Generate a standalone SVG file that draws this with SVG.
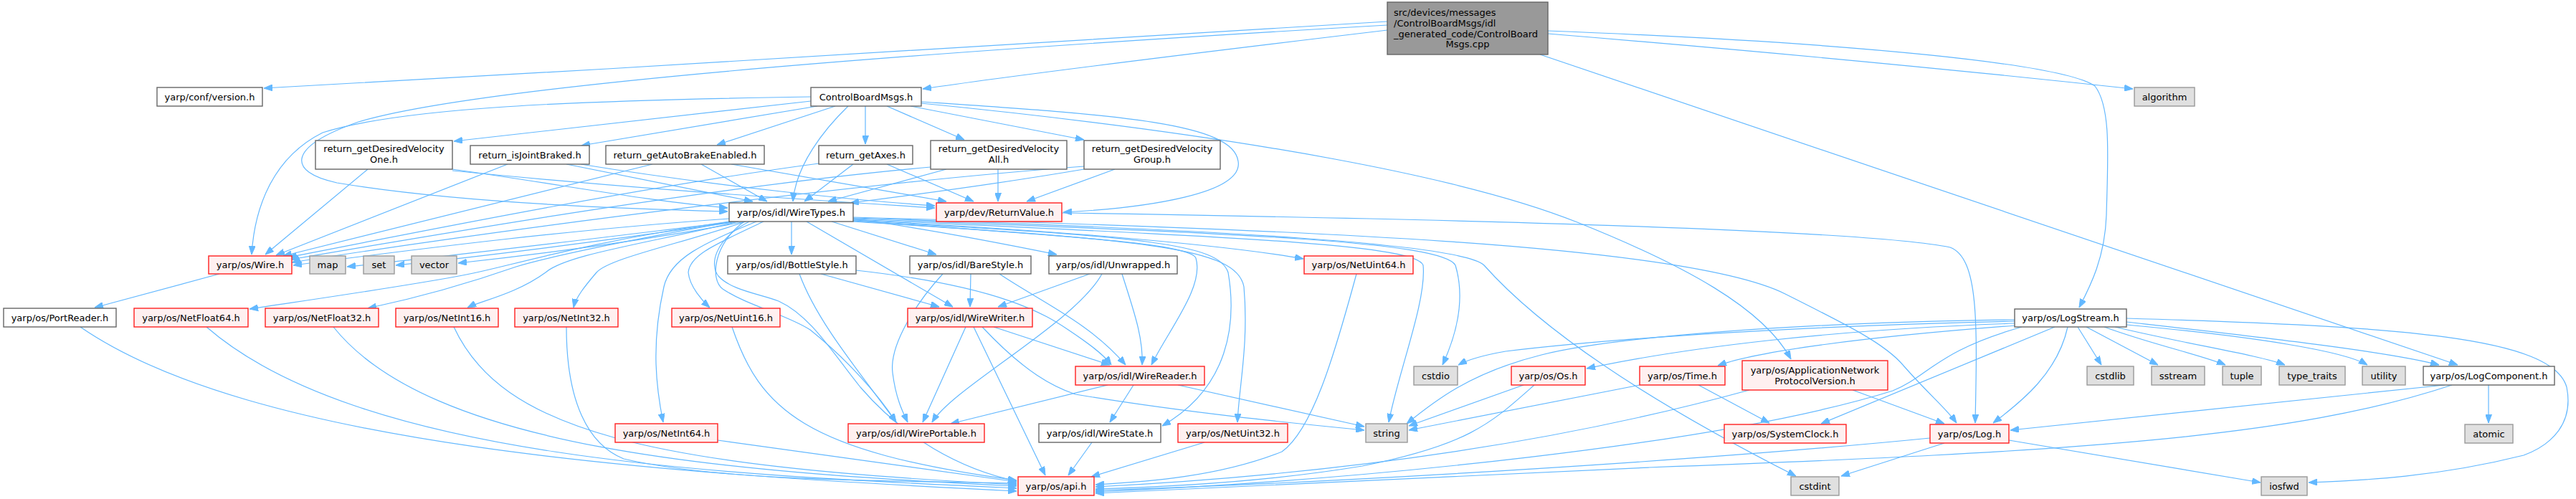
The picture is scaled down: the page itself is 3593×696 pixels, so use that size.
<svg xmlns="http://www.w3.org/2000/svg" width="3593" height="696" viewBox="0 0 3593 696">
<style>
.b{fill:#ffffff;stroke:#666666;stroke-width:1.4}
.r{fill:#fff0f0;stroke:#ff2020;stroke-width:1.4}
.g{fill:#e0e0e0;stroke:#999999;stroke-width:1.4}
.k{fill:#999999;stroke:#666666;stroke-width:1.4}
text{font-family:"DejaVu Sans","Liberation Sans",sans-serif;font-size:13px;fill:#000000;text-anchor:middle}
text.l{text-anchor:start}
#edges path{fill:none;stroke:#63b8ff;stroke-width:1.2;marker-end:url(#a)}
</style>
<defs>
<marker id="a" markerUnits="userSpaceOnUse" markerWidth="12" markerHeight="9" refX="12" refY="4.5" orient="auto">
<path d="M0,0 L12,4.5 L0,9 z" fill="#63b8ff" stroke="#63b8ff" stroke-width="1"/>
</marker>
</defs>
<rect width="3593" height="696" fill="#ffffff"/>
<g id="edges">
<path d="M1935,30 C1500,55 900,95 368,123"/>
<path d="M1935,35 C1500,60 700,110 500,170 C400,205 400,240 470,255 C650,285 900,292 1015,295"/>
<path d="M1935,42 C1700,70 1450,100 1287,124"/>
<path d="M2159,47 C2500,75 2800,105 2975,124"/>
<path d="M2159,43 C2600,60 2880,90 2922,120 C2945,150 2940,220 2938,300 C2936,360 2915,400 2900,429"/>
<path d="M2148,76 L3428,509"/>
<path d="M1131,135 C800,140 560,150 450,185 C380,220 355,290 351,355"/>
<path d="M1131,141 L633,197"/>
<path d="M1140,148 L811,203"/>
<path d="M1165,148 L1000,202"/>
<path d="M1207,148 L1207,201"/>
<path d="M1183,148 C1150,180 1110,230 1106,281"/>
<path d="M1237,148 L1345,195"/>
<path d="M1270,148 L1512,195"/>
<path d="M1285,142 C1550,160 1720,170 1727,225 C1735,270 1600,290 1483,296"/>
<path d="M1285,144 C1750,190 2050,250 2200,310 C2350,370 2460,430 2498,501"/>
<path d="M513,236 L370,355"/>
<path d="M631,236 C800,260 900,280 1015,290"/>
<path d="M631,238 C900,265 1150,280 1304,290"/>
<path d="M708,229 L385,356"/>
<path d="M790,229 L1050,281"/>
<path d="M810,229 C1000,260 1200,280 1304,287"/>
<path d="M910,229 L395,357"/>
<path d="M978,229 L1070,281"/>
<path d="M1020,229 L1320,281"/>
<path d="M1142,228 C900,260 600,320 402,359"/>
<path d="M1190,229 L1122,281"/>
<path d="M1237,229 L1358,281"/>
<path d="M1298,233 C1000,260 650,320 405,362"/>
<path d="M1320,236 L1155,281"/>
<path d="M1392,236 L1392,281"/>
<path d="M1512,232 C1200,255 700,320 407,366"/>
<path d="M1512,236 C1400,255 1250,275 1186,283"/>
<path d="M1555,236 L1432,281"/>
<path d="M1017,305 C800,320 600,345 409,370"/>
<path d="M1025,309 C850,330 650,355 484,372"/>
<path d="M1030,309 C850,335 700,355 552,370"/>
<path d="M1040,309 C900,335 750,355 639,367"/>
<path d="M1104,309 L1104,355"/>
<path d="M1160,309 L1306,355"/>
<path d="M1190,305 C1300,320 1400,340 1474,355"/>
<path d="M1125,309 L1329,428"/>
<path d="M1190,307 C1450,320 1700,340 1818,361"/>
<path d="M1190,308 C1500,330 1660,340 1668,360 C1680,400 1630,460 1606,509"/>
<path d="M1038,309 C995,340 990,390 1008,403 C1040,425 1100,440 1130,460 C1180,500 1225,550 1250,589"/>
<path d="M1045,309 C995,335 990,370 1002,385 C1020,405 1060,410 1086,420 C1130,440 1160,490 1200,540 C1260,610 1340,655 1418,671"/>
<path d="M1190,308 C1600,330 1700,340 1713,380 C1725,450 1715,540 1621,594"/>
<path d="M1190,309 C1600,335 1725,345 1735,400 C1742,480 1728,540 1726,589"/>
<path d="M1190,306 C1700,330 1975,340 1985,370 C1990,420 1950,520 1937,589"/>
<path d="M1190,305 C1700,325 2010,335 2030,370 C2045,420 2030,470 2012,509"/>
<path d="M1190,304 C1700,320 2040,340 2070,370 C2150,460 2300,560 2505,664"/>
<path d="M1190,303 C1800,320 2350,340 2490,410 C2580,455 2630,480 2655,510 C2690,550 2715,570 2729,590"/>
<path d="M1017,309 C800,340 700,375 640,385 C560,400 420,420 348,431"/>
<path d="M1022,309 C850,340 760,360 720,372 C640,400 560,420 513,430"/>
<path d="M1030,309 C900,340 790,355 761,380 C720,410 670,420 652,429"/>
<path d="M1040,309 C950,340 850,360 832,380 C815,400 803,415 800,429"/>
<path d="M1055,309 C980,340 935,360 926,400 C908,480 915,540 925,589"/>
<path d="M1065,309 C1000,340 962,355 960,380 C962,400 980,420 990,429"/>
<path d="M306,382 L132,429"/>
<path d="M1145,382 L1310,428"/>
<path d="M1194,377 C1400,400 1460,440 1490,460 C1520,480 1540,495 1550,509"/>
<path d="M1115,382 C1140,450 1200,520 1250,589"/>
<path d="M1354,382 L1353,428"/>
<path d="M1394,382 C1450,420 1520,450 1570,509"/>
<path d="M1315,382 C1280,420 1240,480 1245,520 C1250,560 1262,580 1266,589"/>
<path d="M1520,382 L1392,428"/>
<path d="M1565,382 C1580,430 1595,470 1593,509"/>
<path d="M1537,382 C1500,450 1330,540 1300,589"/>
<path d="M1386,456 L1548,509"/>
<path d="M1347,456 L1287,589"/>
<path d="M1358,456 L1458,663"/>
<path d="M1370,456 C1430,520 1470,540 1500,550 C1650,575 1800,590 1903,600"/>
<path d="M1545,537 L1326,591"/>
<path d="M1581,537 L1548,589"/>
<path d="M1643,537 L1903,595"/>
<path d="M1523,617 L1490,663"/>
<path d="M1680,617 L1522,665"/>
<path d="M1892,382 C1860,500 1830,600 1788,630 C1700,665 1600,672 1528,676"/>
<path d="M112,456 C350,620 900,660 1418,685"/>
<path d="M288,456 C500,640 1000,662 1418,681"/>
<path d="M465,456 C600,625 1000,658 1418,678"/>
<path d="M633,456 C700,600 900,650 1418,676"/>
<path d="M790,456 C790,560 820,620 870,640 C1000,670 1200,670 1418,674"/>
<path d="M1001,614 L1418,672"/>
<path d="M1021,456 C1060,570 1120,630 1418,670"/>
<path d="M1481,297 C2000,305 2600,320 2720,345 C2760,360 2758,450 2755,590"/>
<path d="M2810,446 C2500,450 2250,470 2150,495 C2050,520 2000,560 1962,591"/>
<path d="M2810,448 C2500,455 2250,472 2100,490 C2060,497 2045,503 2034,509"/>
<path d="M2810,451 C2550,460 2350,485 2213,514"/>
<path d="M2812,454 C2600,470 2450,490 2396,510"/>
<path d="M2820,456 C2700,490 2690,525 2640,545 C2400,620 1900,670 1528,686"/>
<path d="M2866,456 L2540,591"/>
<path d="M2884,456 C2870,520 2820,560 2780,590"/>
<path d="M2898,456 L2931,509"/>
<path d="M2910,456 L3010,509"/>
<path d="M2935,456 C3000,480 3070,495 3104,509"/>
<path d="M2950,456 C3050,480 3150,495 3187,509"/>
<path d="M2966,453 C3150,470 3270,490 3302,509"/>
<path d="M2966,449 C3150,470 3330,490 3402,509"/>
<path d="M2966,444 C3350,455 3560,470 3580,540 C3590,590 3560,620 3520,635 C3400,665 3300,670 3220,673"/>
<path d="M2125,537 L1965,594"/>
<path d="M2140,537 C2080,590 2050,620 1900,650 C1750,675 1600,680 1528,682"/>
<path d="M2287,537 L1965,600"/>
<path d="M2369,537 L2468,590"/>
<path d="M2584,544 L2712,591"/>
<path d="M2440,544 C2200,610 1900,660 1528,679"/>
<path d="M2692,611 C2400,640 1900,672 1528,684"/>
<path d="M2712,618 L2568,664"/>
<path d="M2802,614 L3153,673"/>
<path d="M3410,537 L2804,600"/>
<path d="M3420,537 C3200,610 2900,630 2300,652 C2000,665 1700,680 1528,688"/>
<path d="M3471,537 L3471,590"/>
</g>
<g id="n_root"><rect class="k" x="1935" y="3" width="224" height="73"/><text class="l" x="1944" y="21.5">src/devices/messages</text><text class="l" x="1944" y="36.5">/ControlBoardMsgs/idl</text><text class="l" x="1944" y="51.5">_generated_code/ControlBoard</text><text x="2047" y="66">Msgs.cpp</text></g>
<g id="n_version"><rect class="b" x="219" y="122" width="147" height="26"/><text x="292.5" y="139.5">yarp/conf/version.h</text></g>
<g id="n_cbm"><rect class="b" x="1131" y="122" width="154" height="26"/><text x="1208" y="139.5">ControlBoardMsgs.h</text></g>
<g id="n_algorithm"><rect class="g" x="2977" y="122" width="84" height="26"/><text x="3019" y="139.5">algorithm</text></g>
<g id="n_dvone"><rect class="b" x="440" y="196" width="191" height="40"/><text x="535.5" y="212">return_getDesiredVelocity</text><text x="535.5" y="227">One.h</text></g>
<g id="n_isjb"><rect class="b" x="656" y="203" width="166" height="26"/><text x="739" y="220.5">return_isJointBraked.h</text></g>
<g id="n_autobrake"><rect class="b" x="845" y="203" width="221" height="26"/><text x="955.5" y="220.5">return_getAutoBrakeEnabled.h</text></g>
<g id="n_getaxes"><rect class="b" x="1142" y="203" width="131" height="26"/><text x="1207.5" y="220.5">return_getAxes.h</text></g>
<g id="n_dvall"><rect class="b" x="1298" y="196" width="190" height="40"/><text x="1393" y="212">return_getDesiredVelocity</text><text x="1393" y="227">All.h</text></g>
<g id="n_dvgroup"><rect class="b" x="1512" y="196" width="190" height="40"/><text x="1607" y="212">return_getDesiredVelocity</text><text x="1607" y="227">Group.h</text></g>
<g id="n_wiretypes"><rect class="b" x="1017" y="283" width="173" height="26"/><text x="1103.5" y="300.5">yarp/os/idl/WireTypes.h</text></g>
<g id="n_returnvalue"><rect class="r" x="1306" y="283" width="175" height="26"/><text x="1393.5" y="300.5">yarp/dev/ReturnValue.h</text></g>
<g id="n_wire"><rect class="r" x="291" y="357" width="116" height="25"/><text x="349" y="374">yarp/os/Wire.h</text></g>
<g id="n_map"><rect class="g" x="432" y="357" width="50" height="25"/><text x="457" y="374">map</text></g>
<g id="n_set"><rect class="g" x="507" y="357" width="43" height="25"/><text x="528.5" y="374">set</text></g>
<g id="n_vector"><rect class="g" x="574" y="357" width="63" height="25"/><text x="605.5" y="374">vector</text></g>
<g id="n_bottlestyle"><rect class="b" x="1015" y="357" width="179" height="25"/><text x="1104.5" y="374">yarp/os/idl/BottleStyle.h</text></g>
<g id="n_barestyle"><rect class="b" x="1269" y="357" width="169" height="25"/><text x="1353.5" y="374">yarp/os/idl/BareStyle.h</text></g>
<g id="n_unwrapped"><rect class="b" x="1463" y="357" width="179" height="25"/><text x="1552.5" y="374">yarp/os/idl/Unwrapped.h</text></g>
<g id="n_netuint64"><rect class="r" x="1819" y="357" width="152" height="25"/><text x="1895" y="374">yarp/os/NetUint64.h</text></g>
<g id="n_portreader"><rect class="b" x="5" y="430" width="157" height="26"/><text x="83.5" y="447.5">yarp/os/PortReader.h</text></g>
<g id="n_netfloat64"><rect class="r" x="187" y="430" width="159" height="26"/><text x="266.5" y="447.5">yarp/os/NetFloat64.h</text></g>
<g id="n_netfloat32"><rect class="r" x="370" y="430" width="158" height="26"/><text x="449" y="447.5">yarp/os/NetFloat32.h</text></g>
<g id="n_netint16"><rect class="r" x="552" y="430" width="143" height="26"/><text x="623.5" y="447.5">yarp/os/NetInt16.h</text></g>
<g id="n_netint32"><rect class="r" x="718" y="430" width="144" height="26"/><text x="790" y="447.5">yarp/os/NetInt32.h</text></g>
<g id="n_netuint16"><rect class="r" x="937" y="430" width="151" height="26"/><text x="1012.5" y="447.5">yarp/os/NetUint16.h</text></g>
<g id="n_wirewriter"><rect class="r" x="1266" y="430" width="174" height="26"/><text x="1353" y="447.5">yarp/os/idl/WireWriter.h</text></g>
<g id="n_logstream"><rect class="b" x="2810" y="431" width="156" height="25"/><text x="2888" y="448">yarp/os/LogStream.h</text></g>
<g id="n_wirereader"><rect class="r" x="1500" y="511" width="180" height="26"/><text x="1590" y="528.5">yarp/os/idl/WireReader.h</text></g>
<g id="n_cstdio"><rect class="g" x="1972" y="511" width="61" height="26"/><text x="2002.5" y="528.5">cstdio</text></g>
<g id="n_os"><rect class="r" x="2108" y="511" width="103" height="26"/><text x="2159.5" y="528.5">yarp/os/Os.h</text></g>
<g id="n_time"><rect class="r" x="2287" y="511" width="119" height="26"/><text x="2346.5" y="528.5">yarp/os/Time.h</text></g>
<g id="n_anpv"><rect class="r" x="2430" y="503" width="203" height="41"/><text x="2531.5" y="520.5">yarp/os/ApplicationNetwork</text><text x="2531.5" y="535.5">ProtocolVersion.h</text></g>
<g id="n_cstdlib"><rect class="g" x="2911" y="511" width="65" height="26"/><text x="2943.5" y="528.5">cstdlib</text></g>
<g id="n_sstream"><rect class="g" x="3001" y="511" width="74" height="26"/><text x="3038" y="528.5">sstream</text></g>
<g id="n_tuple"><rect class="g" x="3100" y="511" width="54" height="26"/><text x="3127" y="528.5">tuple</text></g>
<g id="n_typetraits"><rect class="g" x="3179" y="511" width="92" height="26"/><text x="3225" y="528.5">type_traits</text></g>
<g id="n_utility"><rect class="g" x="3295" y="511" width="60" height="26"/><text x="3325" y="528.5">utility</text></g>
<g id="n_logcomponent"><rect class="b" x="3380" y="511" width="183" height="26"/><text x="3471.5" y="528.5">yarp/os/LogComponent.h</text></g>
<g id="n_netint64"><rect class="r" x="858" y="591" width="143" height="26"/><text x="929.5" y="608.5">yarp/os/NetInt64.h</text></g>
<g id="n_wireportable"><rect class="r" x="1183" y="591" width="190" height="26"/><text x="1278" y="608.5">yarp/os/idl/WirePortable.h</text></g>
<g id="n_wirestate"><rect class="b" x="1449" y="591" width="170" height="26"/><text x="1534" y="608.5">yarp/os/idl/WireState.h</text></g>
<g id="n_netuint32"><rect class="r" x="1643" y="591" width="153" height="26"/><text x="1719.5" y="608.5">yarp/os/NetUint32.h</text></g>
<g id="n_string"><rect class="g" x="1905" y="591" width="58" height="26"/><text x="1934" y="608.5">string</text></g>
<g id="n_systemclock"><rect class="r" x="2405" y="592" width="170" height="26"/><text x="2490" y="609.5">yarp/os/SystemClock.h</text></g>
<g id="n_log"><rect class="r" x="2692" y="592" width="110" height="26"/><text x="2747" y="609.5">yarp/os/Log.h</text></g>
<g id="n_atomic"><rect class="g" x="3438" y="592" width="67" height="26"/><text x="3471.5" y="609.5">atomic</text></g>
<g id="n_api"><rect class="r" x="1420" y="665" width="106" height="26"/><text x="1473" y="682.5">yarp/os/api.h</text></g>
<g id="n_cstdint"><rect class="g" x="2498" y="665" width="67" height="26"/><text x="2531.5" y="682.5">cstdint</text></g>
<g id="n_iosfwd"><rect class="g" x="3154" y="665" width="64" height="26"/><text x="3186" y="682.5">iosfwd</text></g>
</svg>
